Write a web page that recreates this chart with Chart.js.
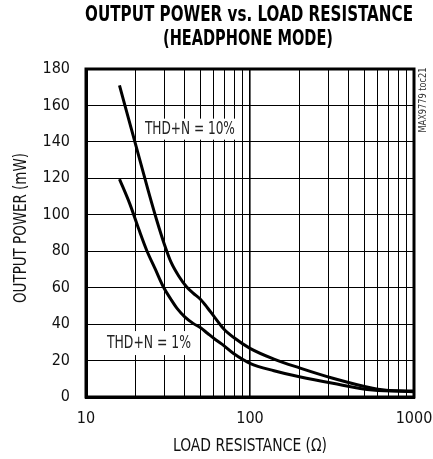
<!DOCTYPE html>
<html><head><meta charset="utf-8">
<script src="https://cdn.jsdelivr.net/npm/chart.js@4"></script>
<style>html,body{margin:0;padding:0;background:#fff}#wrap{width:433px;height:459px}</style>
</head><body><div id="wrap"><canvas id="c" width="433" height="459"></canvas></div>
<script>
const titleLines = ["OUTPUT POWER vs. LOAD RESISTANCE", "(HEADPHONE MODE)"];
const xTitle = "LOAD RESISTANCE (Ω)";
const yTitle = "OUTPUT POWER (mW)";
const figureId = "MAX9779 toc21";
const xGridValues = [10,20,30,40,50,60,70,80,90,100,200,300,400,500,600,700,800,900,1000];
const xLabelValues = [10,100,1000];
const yTicks = [0,20,40,60,80,100,120,140,160,180];
const seriesLabels = ["THD+N = 10%", "THD+N = 1%"];
const thd10R = [16, 20, 24, 27, 30, 33, 37, 41, 45, 50, 55, 60, 69, 80, 100, 140, 200, 320, 560, 710, 1000];
const thd10P = [171, 139, 113, 97, 84, 74, 66, 60.5, 57, 53.5, 49, 44.5, 37.5, 32.5, 26.7, 20.8, 16, 10.3, 4.8, 3.5, 3.3];
const thd1R = [16, 18.5, 21, 23.4, 26.5, 29.6, 33, 36, 40, 45, 50, 55, 62, 69, 79, 100, 140, 200, 320, 560, 1000];
const thd1P = [119.6, 106, 92, 80.7, 70, 60.5, 53.5, 48.5, 44, 40.4, 38, 35, 31.3, 28.3, 24, 18.5, 14.4, 11.1, 7.5, 3.8, 2.9];
const labelAnchorR = [43, 24.2];
const labelAnchorP = [147, 29.6];

const FONT = "'Liberation Sans Narrow', 'DejaVu Sans Condensed', sans-serif";

function fitText(ctx, text, x, y, width, font, rot, color) {
  ctx.save();
  ctx.font = font;
  const w = ctx.measureText(text).width;
  ctx.translate(x, y);
  if (rot) ctx.rotate(rot);
  ctx.scale(width / w, 1);
  ctx.textAlign = 'center';
  ctx.textBaseline = 'middle';
  ctx.fillStyle = color || '#000';
  ctx.fillText(text, 0, 0);
  ctx.restore();
}

const decor = {
  id: 'decor',
  beforeDatasetsDraw(chart) {
    const ctx = chart.ctx, xs = chart.scales.x, ys = chart.scales.y;
    const boxes = [[100, 21, 90], [92, 24, 84]];
    for (let i = 0; i < 2; i++) {
      const cx = xs.getPixelForValue(labelAnchorR[i]);
      const cy = ys.getPixelForValue(labelAnchorP[i]);
      ctx.save();
      ctx.fillStyle = '#fff';
      ctx.fillRect(cx - boxes[i][0] / 2, cy - boxes[i][1] / 2, boxes[i][0], boxes[i][1]);
      ctx.restore();
      fitText(ctx, seriesLabels[i], cx, cy, boxes[i][2], "18px " + FONT, 0, '#222');
    }
  },
  afterDraw(chart) {
    const ctx = chart.ctx, a = chart.chartArea;
    ctx.save();
    ctx.strokeStyle = '#000';
    ctx.lineWidth = 3;
    ctx.strokeRect(a.left, a.top, a.right - a.left, a.bottom - a.top);
    ctx.restore();
    fitText(ctx, titleLines[0], 249, 16, 328, "bold 21px 'DejaVu Sans Condensed', sans-serif");
    fitText(ctx, titleLines[1], 248, 39.5, 170, "bold 21px 'DejaVu Sans Condensed', sans-serif");
    fitText(ctx, yTitle, 22, 228, 150, "17px " + FONT, -Math.PI / 2, '#111');
    fitText(ctx, xTitle, 250, 447, 154, "17px " + FONT, 0, '#111');
    fitText(ctx, figureId, 423, 100, 65, "10px " + FONT, -Math.PI / 2, '#333');
  }
};

new Chart(document.getElementById('c'), {
  type: 'line',
  data: {
    datasets: [
      { label: seriesLabels[0], data: thd10R.map((r, i) => ({x: r, y: thd10P[i]})) },
      { label: seriesLabels[1], data: thd1R.map((r, i) => ({x: r, y: thd1P[i]})) }
    ]
  },
  options: {
    responsive: false,
    animation: false,
    devicePixelRatio: 1,
    layout: { padding: { top: 69, right: 19, left: 0, bottom: 0 } },
    elements: {
      point: { radius: 0 },
      line: { borderColor: '#000', borderWidth: 3, cubicInterpolationMode: 'monotone', fill: false }
    },
    plugins: { legend: { display: false }, tooltip: { enabled: false }, title: { display: false } },
    scales: {
      x: {
        type: 'logarithmic', min: 10, max: 1000,
        afterBuildTicks: s => { s.ticks = xGridValues.map(v => ({ value: v })); },
        afterFit: s => { s.height = 62; s.paddingLeft = 0; s.paddingRight = 0; },
        ticks: {
          autoSkip: false, maxRotation: 0, minRotation: 0, padding: 12,
          color: '#111', font: { family: FONT, size: 16 },
          callback: v => xLabelValues.includes(v) ? String(v) : ''
        },
        grid: { color: '#000', lineWidth: c => (c.tick && c.tick.value === 100) ? 1.6 : 1, drawTicks: false },
        border: { display: true, color: '#000', width: 3 }
      },
      y: {
        min: 0, max: 180,
        afterBuildTicks: s => { s.ticks = yTicks.map(v => ({ value: v })); },
        afterFit: s => { s.width = 86; s.paddingTop = 0; s.paddingBottom = 0; },
        ticks: { padding: 16, color: '#111', font: { family: FONT, size: 16 } },
        grid: { color: '#000', lineWidth: 1, drawTicks: false },
        border: { display: true, color: '#000', width: 3 }
      }
    }
  },
  plugins: [decor]
});
</script>
</body></html>
